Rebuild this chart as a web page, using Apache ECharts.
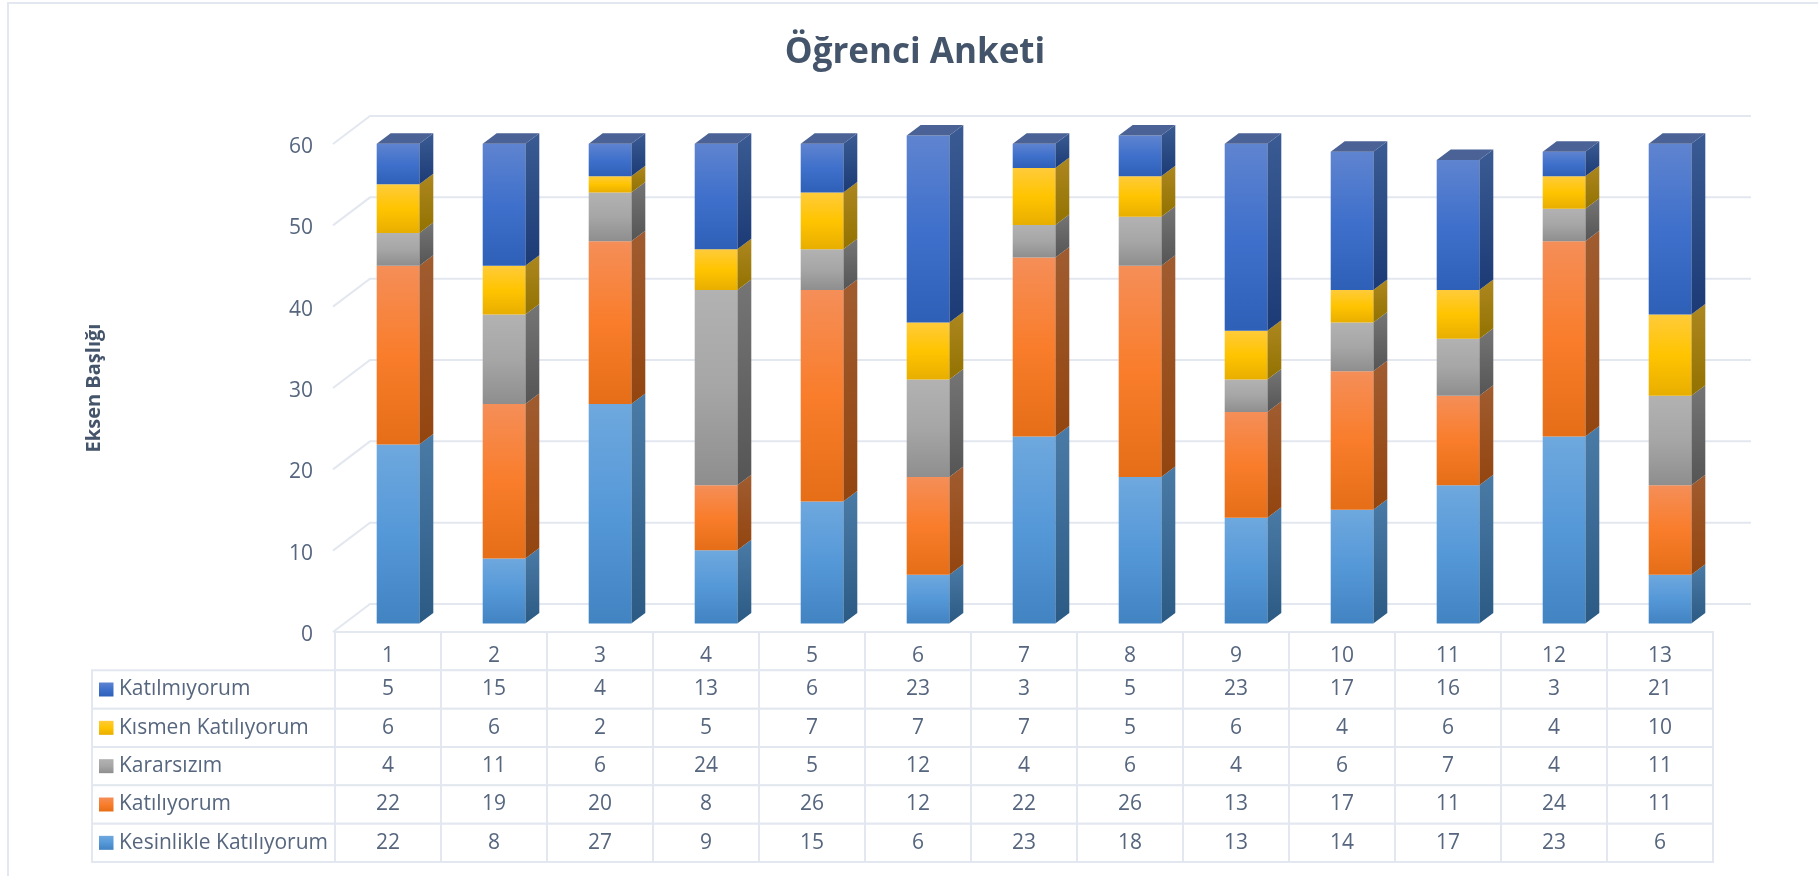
<!DOCTYPE html>
<html>
<head>
<meta charset="utf-8">
<title>Öğrenci Anketi</title>
<style>html,body{margin:0;padding:0;background:#fff}#main{width:1818px;height:876px}</style>
<script src="https://cdn.jsdelivr.net/npm/echarts@6/dist/echarts.min.js"></script>
</head>
<body>
<div id="main"></div>
<script>
var categories = ['1','2','3','4','5','6','7','8','9','10','11','12','13'];
var yTicks = [0,10,20,30,40,50,60];

// bottom to top, same as the stack
var kesinlikle = [22,8,27,9,15,6,23,18,13,14,17,23,6];
var katiliyorum = [22,19,20,8,26,12,22,26,13,17,11,24,11];
var kararsizim = [4,11,6,24,5,12,4,6,4,6,7,4,11];
var kismen = [6,6,2,5,7,7,7,5,6,4,6,4,10];
var katilmiyorum = [5,15,4,13,6,23,3,5,23,17,16,3,21];

var seriesNames = ['Kesinlikle Katılıyorum','Katılıyorum','Kararsızım','Kısmen Katılıyorum','Katılmıyorum'];
var seriesValues = [kesinlikle,katiliyorum,kararsizim,kismen,katilmiyorum];
var frontColors = [
  ['#6ea8de','#5598d8','#4283c2'],
  ['#f58e58','#f97d2b','#e66e17'],
  ['#b2b2b2','#a6a6a6','#8e8e8e'],
  ['#ffcb3a','#ffc400','#e8ae00'],
  ['#5f84d0','#3f70cb','#2f60b8']
];
var sideColors = [
  ['#4a7ba6','#2b5a84'],
  ['#a05c30','#93450f'],
  ['#757575','#555555'],
  ['#ad8720','#927200'],
  ['#3a5b94','#1c3b76']
];

var lineColor = '#e3e7ef';
var textColor = '#56667e';
var FONT = '"Open Sans"';

var BAR_W = 42.6, BAR_DX = 10, BAR_DY = -8.5;  // bar front face, relative to category centre / axis
var SIDE_X = 14, SIDE_Y = -10.5;               // bar depth
var WALL_X = 37, WALL_Y = -28;                 // back wall depth

function grad(c) {
  var stops = c.map(function (col, i) { return {offset: i / (c.length - 1), color: col}; });
  return new echarts.graphic.LinearGradient(0, 0, 0, 1, stops);
}

function barSeries(idx) {
  var rows = categories.map(function (c, i) {
    var start = 0;
    for (var s = 0; s < idx; s++) start += seriesValues[s][i];
    return [i, start, start + seriesValues[idx][i]];
  });
  return {
    name: seriesNames[idx],
    type: 'custom',
    xAxisIndex: 0,
    yAxisIndex: 0,
    clip: false,
    z: 5,
    encode: {x: 0, y: [1, 2]},
    data: rows,
    renderItem: function (params, api) {
      var bot = api.coord([api.value(0), api.value(1)]);
      var top = api.coord([api.value(0), api.value(2)]);
      var xl = bot[0] + BAR_DX - BAR_W / 2, xr = xl + BAR_W;
      var yb = bot[1] + BAR_DY, yt = top[1] + BAR_DY;
      var kids = [
        {type: 'polygon', shape: {points: [[xr, yb], [xr + SIDE_X, yb + SIDE_Y], [xr + SIDE_X, yt + SIDE_Y], [xr, yt]]},
          style: {fill: grad(sideColors[idx])}},
        {type: 'rect', shape: {x: xl, y: yt, width: BAR_W, height: yb - yt},
          style: {fill: grad(frontColors[idx])}}
      ];
      if (idx === seriesNames.length - 1) {
        kids.push({type: 'polygon', shape: {points: [[xl, yt], [xl + SIDE_X, yt + SIDE_Y], [xr + SIDE_X, yt + SIDE_Y], [xr, yt]]},
          style: {fill: '#4b6296'}});
      }
      return {type: 'group', children: kids};
    }
  };
}

// back wall gridlines, with the diagonal running back from each tick
var wallSeries = {
  type: 'custom',
  name: 'wall',
  xAxisIndex: 0,
  yAxisIndex: 0,
  clip: false,
  silent: true,
  z: 1,
  data: yTicks.map(function (t) { return [0, t]; }),
  renderItem: function (params, api) {
    var p = api.coord([0, api.value(1)]);
    var x0 = params.coordSys.x, x1 = x0 + params.coordSys.width;
    var style = {stroke: lineColor, lineWidth: 2, fill: null};
    return {type: 'polyline', shape: {points: [[x0 - 2, p[1]], [x0 + WALL_X - 2, p[1] + WALL_Y], [x1 + WALL_X + 1, p[1] + WALL_Y]]}, style: style};
  }
};

// data table under the chart: top row is the category row, then one row per series
var tableRows = ['header'].concat(seriesNames.slice().reverse());
var tableData = [];
categories.forEach(function (c, i) {
  tableData.push([i, 0, c]);
  for (var s = 0; s < seriesNames.length; s++) {
    tableData.push([i, s + 1, seriesValues[seriesNames.length - 1 - s][i]]);
  }
});
var tableSeries = {
  type: 'custom',
  name: 'table',
  xAxisIndex: 1,
  yAxisIndex: 1,
  clip: false,
  silent: true,
  z: 3,
  data: tableData,
  renderItem: function (params, api) {
    var col = api.value(0), row = api.value(1);
    var c = api.coord([col, row]);
    var w = api.size([1, 0])[0], h = api.size([0, 1])[1];
    var border = {stroke: lineColor, lineWidth: 2, fill: '#fff'};
    var kids = [
      {type: 'rect', shape: {x: c[0] - w / 2, y: c[1] - h / 2, width: w, height: h}, style: border},
      {type: 'text', style: {text: String(tableData[params.dataIndex][2]), x: c[0], y: c[1] + (row === 0 ? 5 : 0),
        align: 'center', verticalAlign: 'middle', fill: textColor, font: '21px ' + FONT}}
    ];
    if (col === 0 && row > 0) {
      var gx = params.coordSys.x, left = 92;
      kids.push({type: 'rect', shape: {x: left, y: c[1] - h / 2, width: gx - left, height: h}, style: border});
      kids.push({type: 'rect', shape: {x: 99, y: c[1] - 7, width: 14.5, height: 14},
        style: {fill: grad(frontColors[seriesNames.length - row])}});
      kids.push({type: 'text', style: {text: tableRows[row], x: 119, y: c[1], align: 'left', verticalAlign: 'middle',
        fill: textColor, font: '21px ' + FONT}});
    }
    return {type: 'group', children: kids};
  }
};

var option = {
  animation: false,
  backgroundColor: '#fff',
  title: {
    text: 'Öğrenci Anketi',
    left: 910,
    top: 31,
    textAlign: 'center',
    textStyle: {color: '#44546a', fontSize: 35, fontWeight: 'bold', fontFamily: FONT}
  },
  graphic: [{
    type: 'polyline',
    silent: true,
    shape: {points: [[8, 876], [8, 3], [1818, 3]]},
    style: {stroke: lineColor, lineWidth: 2, fill: null}
  }],
  grid: [
    {left: 335, width: 1378, top: 144, height: 488},
    {left: 335, width: 1378, top: 632, height: 230}
  ],
  xAxis: [
    {type: 'category', gridIndex: 0, data: categories, axisLine: {show: false}, axisTick: {show: false}, axisLabel: {show: false}, splitLine: {show: false}},
    {type: 'category', gridIndex: 1, data: categories, show: false}
  ],
  yAxis: [
    {
      type: 'value',
      gridIndex: 0,
      min: 0,
      max: 60,
      interval: 10,
      name: 'Eksen Başlığı',
      nameLocation: 'middle',
      nameGap: 231,
      nameRotate: 90,
      nameTextStyle: {color: '#44546a', fontSize: 20, fontWeight: 'bold', fontFamily: FONT},
      axisLine: {show: false},
      axisTick: {show: false},
      splitLine: {show: false},
      axisLabel: {color: textColor, fontSize: 21, margin: 22, fontFamily: FONT, verticalAlign: 'top', lineHeight: 6}
    },
    {type: 'category', gridIndex: 1, data: tableRows, inverse: true, show: false}
  ],
  series: [wallSeries].concat(seriesNames.map(function (n, i) { return barSeries(i); }), [tableSeries])
};

var myChart = echarts.init(document.getElementById('main'));
myChart.setOption(option);
</script>
</body>
</html>
